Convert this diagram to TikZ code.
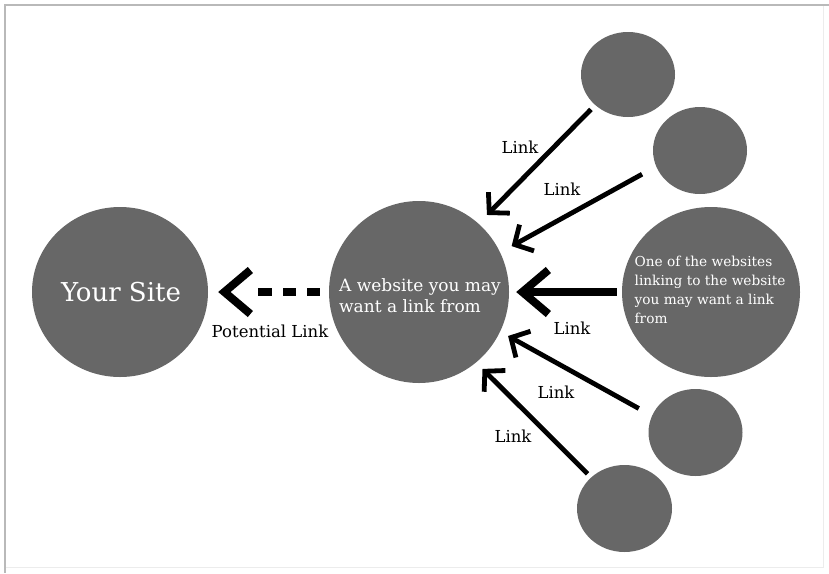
\documentclass[tikz,border=0pt]{standalone}
\usepackage{fontspec}
\setmainfont{DejaVu Serif}
\usetikzlibrary{shapes.geometric,arrows.meta}
\definecolor{sitegray}{RGB}{103,103,103}
\tikzset{
  site/.style={ellipse,fill=sitegray,inner sep=0pt},
  sitetext/.style={text=white,align=left,inner sep=0pt},
  linkarrow/.style={-{Straight Barb[length=14pt,width=30pt]},line width=4.8pt},
  linklabel/.style={font=\fontsize{16.5}{19}\selectfont,inner sep=0pt}
}
\begin{document}
\begin{tikzpicture}[x=1pt,y=-1pt]
\useasboundingbox (0,0) rectangle (829,573);

% cornice
\draw[gray!15,line width=1pt] (823,5) -- (823,567) -- (5,567);
\draw[gray!55,line width=2pt] (5,573) -- (5,5) -- (829,5);

\node[site,minimum width=176pt,minimum height=170pt] (your) at (120,292) {};
\node[site,minimum width=180pt,minimum height=182pt] (mid) at (419,292) {};
\node[site,minimum width=178pt,minimum height=170pt] (big) at (711,292) {};
\node[site,minimum width=94pt,minimum height=85pt] (top1) at (628,74.5) {};
\node[site,minimum width=94pt,minimum height=87pt] (top2) at (700,150.5) {};
\node[site,minimum width=94pt,minimum height=87pt] (bot1) at (695.5,432.5) {};
\node[site,minimum width=95pt,minimum height=87pt] (bot2) at (624.5,508.5) {};

\node[sitetext,font=\fontsize{26}{30}\selectfont] (yourtext) at (121,292) {Your Site};
\node[sitetext,font=\fontsize{17}{21}\selectfont] (midtext) at (420,296) {A website you may\\want a link from};
\node[sitetext,font=\fontsize{13.7}{19}\selectfont] (bigtext) at (710,290)
  {One of the websites\\linking to the website\\you may want a link\\from};

% link
\draw[linkarrow,shorten >=12pt,shorten <=6pt] (top1.223) -- (mid.49.3);
\draw[linkarrow,shorten >=13pt,shorten <=16pt] (top2.200.9) -- (mid.26.3);
\draw[-{Straight Barb[length=26pt,width=44pt]},line width=8pt,shorten >=7pt,shorten <=5pt] (big.180) -- (mid.0);
\draw[linkarrow,shorten >=9pt,shorten <=15pt] (bot1.159.8) -- (mid.334.2);
\draw[linkarrow,shorten >=9pt,shorten <=5pt] (bot2.137.4) -- (mid.309.7);

% potential link
\draw[-{Straight Barb[length=26pt,width=44pt]},line width=8pt,shorten >=10pt,shorten <=9pt,
  dash pattern=on 13pt off 11pt on 13pt off 11pt on 14pt off 60pt] (mid.180) -- (your.0);

\node[linklabel] (lab1) at (520,147) {Link};
\node[linklabel] (lab2) at (562,189) {Link};
\node[linklabel] (lab3) at (572,328) {Link};
\node[linklabel] (lab4) at (556,392) {Link};
\node[linklabel] (lab5) at (513,436) {Link};
\node[linklabel] (potlab) at (270,331) {Potential Link};
\end{tikzpicture}
\end{document}
